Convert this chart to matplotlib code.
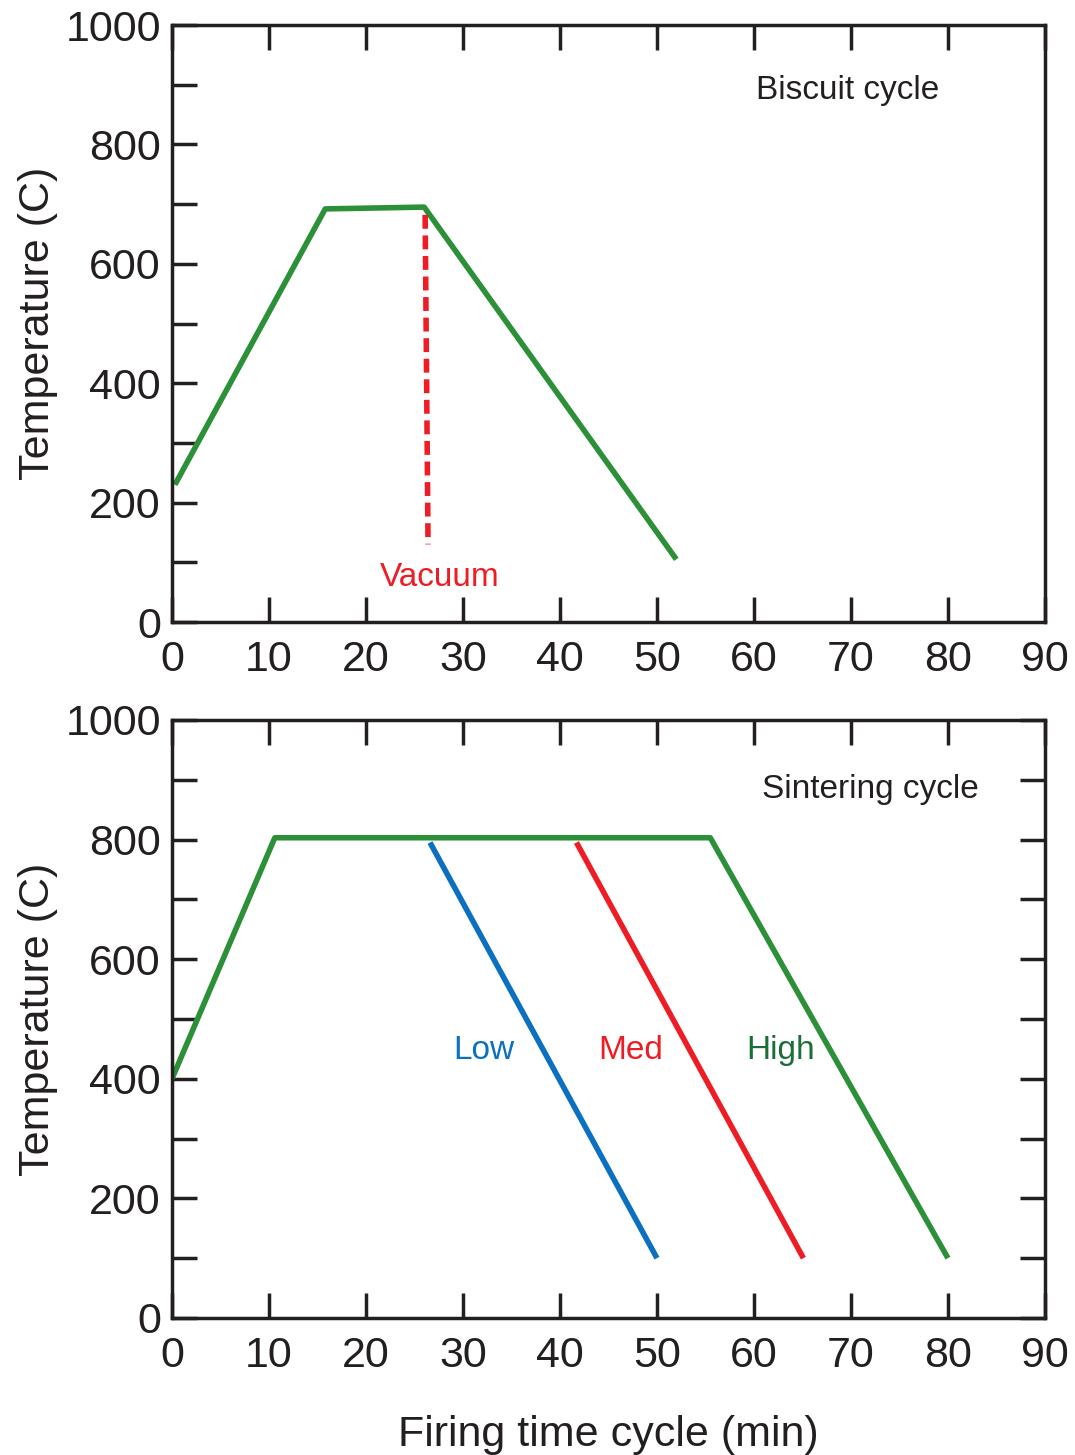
import matplotlib.pyplot as plt
from matplotlib.ticker import MultipleLocator

plt.rcParams['font.family'] = ['Liberation Sans', 'DejaVu Sans']

ink = '#231f20'
green = '#2b9038'
blue = '#0a70bf'
red = '#ee1d25'

# Biscuit cycle
biscuit_t = [0.3, 15.8, 26.0, 52.0]
biscuit_T = [230, 692, 695, 105]
vacuum_t = [26.1, 26.4]
vacuum_T = [682, 130]

# Sintering cycle
sinter_t = [0.0, 10.6, 55.5, 80.0]
sinter_T = [400, 803, 803, 100]
low_t = [26.6, 50.0]
low_T = [795, 100]
med_t = [41.7, 65.1]
med_T = [795, 100]

fig = plt.figure(figsize=(10.75, 14.55), dpi=100)
ax1 = fig.add_axes([0.160, 0.5725, 0.812, 0.4103])
ax2 = fig.add_axes([0.160, 0.0942, 0.812, 0.4110])

for ax, right_ticks in [(ax1, False), (ax2, True)]:
    ax.set_xlim(0, 90)
    ax.set_ylim(0, 1000)
    ax.xaxis.set_major_locator(MultipleLocator(10))
    ax.yaxis.set_major_locator(MultipleLocator(200))
    ax.yaxis.set_minor_locator(MultipleLocator(100))
    ax.tick_params(axis='x', which='both', direction='in', top=True, bottom=True,
                   length=18, width=2.5, color=ink, labelsize=31, labelcolor=ink, pad=13)
    ax.tick_params(axis='y', which='both', direction='in', left=True, right=right_ticks,
                   length=18, width=2.5, color=ink, labelsize=31, labelcolor=ink, pad=8)
    for s in ax.spines.values():
        s.set_linewidth(2.5)
        s.set_color(ink)
    ax.set_ylabel('Temperature (C)', fontsize=31, color=ink, labelpad=5)

ax1.plot(biscuit_t, biscuit_T, color=green, lw=4, solid_capstyle='butt')
ax1.plot(vacuum_t, vacuum_T, color=red, lw=4, linestyle=(0, (2.5, 1.2)))
ax1.text(69.7, 890, 'Biscuit cycle', fontsize=24, color=ink, ha='center', va='center')
ax1.text(27.6, 74, 'Vacuum', fontsize=24, color=red, ha='center', va='center')

ax2.plot(sinter_t, sinter_T, color=green, lw=4, solid_capstyle='butt')
ax2.plot(low_t, low_T, color=blue, lw=4, solid_capstyle='butt')
ax2.plot(med_t, med_T, color=red, lw=4, solid_capstyle='butt')
ax2.text(72.0, 884, 'Sintering cycle', fontsize=24, color=ink, ha='center', va='center')
ax2.text(32.2, 448, 'Low', fontsize=24, color=blue, ha='center', va='center')
ax2.text(47.3, 448, 'Med', fontsize=24, color=red, ha='center', va='center')
ax2.text(62.7, 448, 'High', fontsize=24, color='#1a6e38', ha='center', va='center')
ax2.set_xlabel('Firing time cycle (min)', fontsize=31, color=ink, labelpad=28)

fig.savefig('out.png', dpi=100)
